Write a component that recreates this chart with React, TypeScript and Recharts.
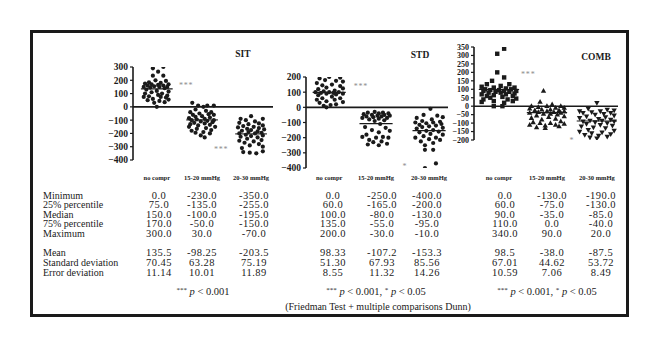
import React from 'react';
import { ScatterChart, Scatter, XAxis, YAxis, ReferenceLine, ReferenceDot } from 'recharts';

const INK = '#1a1a1a';
const STAR = '#8c8c8c';
const FONT = '"Liberation Serif", "Times New Roman", serif';

const categories = ['no compr', '15-20 mmHg', '20-30 mmHg'];

// each point: [value, horizontal jitter within its column (-1..1)]
const sitNoCompr: [number, number][] = [
  [300, 0.5], [290, -0.3], [265, 0.1], [235, -0.3], [235, 0.5], [200, -0.1], [195, 0.7], [185, -0.6], [180, 0.3], [175, -0.9],
  [170, 0.9], [170, -0.4], [165, 0.1], [160, -0.7], [160, 0.5], [155, -0.2], [150, 0.8], [150, -1.0], [150, 0.2], [145, -0.5],
  [140, 0.6], [130, -0.8], [120, 0.0], [115, 0.9], [110, -0.4], [100, 0.4], [100, -0.9], [90, 0.1], [85, 0.8], [80, -0.6],
  [75, 0.3], [75, -1.0], [70, 0.7], [60, -0.3], [55, 0.9], [50, -0.7], [45, 0.2], [35, 0.6], [30, -0.2], [0, 0.0],
];
const sit1520: [number, number][] = [
  [30, -0.75], [10, -0.3], [10, 0.4], [10, 0.9], [0, 0.1], [-20, -0.5], [-30, 0.3], [-40, -0.9], [-40, 0.7], [-50, -0.2],
  [-55, 0.5], [-60, -0.7], [-60, 0.9], [-70, 0.0], [-75, -0.5], [-80, 0.6], [-85, -1.0], [-90, 0.2], [-95, -0.4], [-100, 0.9],
  [-100, -0.8], [-105, 0.4], [-110, -0.1], [-115, 0.8], [-120, -0.6], [-125, 0.2], [-130, -0.9], [-135, 0.6], [-140, -0.3], [-150, 1.0],
  [-150, -1.0], [-160, 0.3], [-165, -0.4], [-175, 0.7], [-180, -0.8], [-190, 0.1], [-195, -0.5], [-200, 0.6], [-215, -0.1], [-230, 0.2],
];
const sit2030: [number, number][] = [
  [-70, 0.0], [-90, -0.8], [-90, 0.9], [-100, -0.4], [-110, 0.3], [-120, -0.9], [-125, 0.6], [-130, -0.2], [-140, 0.9], [-145, -0.6],
  [-150, 0.2], [-155, -1.0], [-160, 0.6], [-165, -0.3], [-170, 1.0], [-175, 0.0], [-180, -0.7], [-185, 0.5], [-190, -0.2], [-195, 0.8],
  [-200, -0.9], [-200, 0.3], [-210, -0.4], [-215, 0.9], [-220, 0.0], [-225, -0.8], [-230, 0.5], [-240, -0.3], [-250, 0.8], [-255, -0.9],
  [-260, 0.2], [-270, -0.5], [-280, 0.6], [-290, -0.1], [-300, 0.9], [-310, -0.7], [-340, -0.6], [-345, -0.1], [-350, 0.4], [-335, 0.9],
];
const stdNoCompr: [number, number][] = [
  [200, 0.0], [190, -0.7], [195, 0.8], [180, -0.3], [175, 0.5], [170, 1.0], [160, -0.9], [150, 0.2], [145, -0.5], [140, 0.8],
  [130, -0.2], [125, 1.0], [120, -0.8], [110, 0.4], [105, -0.4], [100, 0.0], [100, 0.7], [100, -1.0], [95, 0.3], [95, -0.6],
  [90, 1.0], [90, -0.2], [85, 0.5], [80, -0.8], [70, 0.2], [60, -0.5], [60, 0.8], [50, -0.9], [50, 0.4], [40, -0.2],
  [35, 1.0], [30, -0.7], [20, 0.5], [15, 0.1], [10, -0.4], [0, -0.2],
];
const std1520: [number, number][] = [
  [-30, -0.1], [-35, 0.5], [-35, -0.6], [-40, 0.9], [-40, 0.2], [-45, -0.9], [-50, -0.3], [-50, 0.6], [-55, 1.0], [-55, 0.1],
  [-60, -0.7], [-60, 0.4], [-65, -0.2], [-70, 0.8], [-70, -1.0], [-75, 0.2], [-80, -0.5], [-85, 0.6], [-90, -0.1], [-110, 0.3],
  [-130, -0.8], [-135, 0.7], [-150, -0.3], [-155, 1.0], [-165, 0.2], [-180, -0.7], [-195, 0.5], [-195, -1.0], [-200, 0.0], [-200, 0.9],
  [-215, -0.5], [-225, 0.4], [-230, -0.2], [-240, 0.8], [-245, -0.6], [-250, 0.2],
];
const std2030: [number, number][] = [
  [-10, 0.1], [-50, -0.4], [-55, 0.6], [-65, 1.0], [-70, -0.9], [-80, 0.2], [-90, -0.5], [-95, 0.8], [-100, -1.0], [-100, 0.3],
  [-105, -0.2], [-110, 0.9], [-115, -0.7], [-120, 0.5], [-125, 0.0], [-130, -0.5], [-135, 1.0], [-140, -0.9], [-150, 0.3], [-155, -0.2],
  [-160, 0.7], [-165, -0.7], [-175, 0.1], [-180, 1.0], [-190, -0.4], [-200, 0.5], [-200, -1.0], [-210, 0.0], [-215, 0.8], [-225, -0.6],
  [-235, 0.3], [-250, -0.3], [-280, -0.3], [-280, 0.3], [-370, 0.5], [-400, -0.3],
];
const combNoCompr: [number, number][] = [
  [340, 0.3], [310, -0.1], [200, -0.1], [170, 0.3], [150, -0.4], [130, 0.6], [130, -0.7], [120, 0.1], [115, -1.0], [110, 0.9],
  [110, -0.3], [105, 0.4], [100, -0.8], [100, 0.7], [95, 0.0], [95, -0.5], [90, 1.0], [90, 0.3], [90, -0.9], [85, -0.2],
  [85, 0.6], [80, -0.6], [80, 0.1], [75, 0.9], [70, -1.0], [70, 0.4], [65, -0.3], [60, 0.8], [60, -0.7], [55, 0.2],
  [50, -0.5], [45, 1.0], [40, -0.9], [40, 0.5], [30, -0.3], [30, 0.8], [25, -1.0], [20, 0.3], [0, -0.3], [0, 0.2],
];
const comb1520: [number, number][] = [
  [90, -0.2], [25, -0.4], [10, 0.3], [0, -0.9], [0, 0.8], [0, 0.0], [-5, -0.5], [-10, 0.5], [-10, 1.0], [-15, -1.0],
  [-20, 0.2], [-20, -0.3], [-25, 0.7], [-25, -0.7], [-30, 0.0], [-30, 1.0], [-35, -0.5], [-35, 0.4], [-40, -1.0], [-40, 0.8],
  [-45, -0.2], [-45, 0.2], [-50, 0.6], [-55, -0.6], [-60, 1.0], [-65, 0.1], [-70, -0.9], [-75, 0.5], [-80, -0.3], [-90, 0.8],
  [-95, -0.8], [-100, 0.2], [-100, -0.4], [-105, 1.0], [-110, -1.0], [-110, 0.5], [-115, -0.1], [-120, 0.7], [-125, -0.6], [-130, -0.1],
];
const comb2030: [number, number][] = [
  [20, 0.0], [-15, -0.5], [-20, 0.6], [-25, 1.0], [-30, -1.0], [-30, 0.2], [-35, -0.3], [-40, 0.8], [-40, -0.8], [-45, 0.4],
  [-50, -0.1], [-55, 1.0], [-60, -0.6], [-65, 0.5], [-70, -1.0], [-75, 0.1], [-80, 0.8], [-85, -0.4], [-85, 0.3], [-90, -0.8],
  [-90, 1.0], [-95, -0.1], [-100, 0.6], [-105, -0.6], [-110, 0.2], [-115, 0.9], [-120, -0.9], [-125, -0.2], [-130, 0.5], [-140, -0.5],
  [-145, 1.0], [-150, -1.0], [-155, 0.3], [-160, -0.3], [-165, 0.8], [-170, -0.7], [-175, 0.1], [-180, 0.6], [-185, -0.4], [-190, 0.0],
];

const sitMeans = [135.5, -98.25, -203.5];
const stdMeans = [98.33, -107.2, -153.3];
const combMeans = [98.5, -38.0, -87.5];

const sitTicks = [300, 200, 100, 0, -100, -200, -300, -400];
const stdTicks = [200, 100, 0, -100, -200, -300, -400];
const combTicks = [350, 300, 250, 200, 150, 100, 50, 0, -50, -100, -150, -200];

const rowLabelsA = ['Minimum', '25% percentile', 'Median', '75% percentile', 'Maximum'];
const rowLabelsB = ['Mean', 'Standard deviation', 'Error deviation'];

// columns: [min, q1, median, q3, max, mean, sd, error]
const sitStats = [
  ['0.0', '75.0', '150.0', '170.0', '300.0', '135.5', '70.45', '11.14'],
  ['-230.0', '-135.0', '-100.0', '-50.0', '30.0', '-98.25', '63.28', '10.01'],
  ['-350.0', '-255.0', '-195.0', '-150.0', '-70.0', '-203.5', '75.19', '11.89'],
];
const stdStats = [
  ['0.0', '60.0', '100.0', '135.0', '200.0', '98.33', '51.30', '8.55'],
  ['-250.0', '-165.0', '-80.0', '-55.0', '-30.0', '-107.2', '67.93', '11.32'],
  ['-400.0', '-200.0', '-130.0', '-95.0', '-10.0', '-153.3', '85.56', '14.26'],
];
const combStats = [
  ['0.0', '60.0', '90.0', '110.0', '340.0', '98.5', '67.01', '10.59'],
  ['-130.0', '-75.0', '-35.0', '0.0', '90.0', '-38.0', '44.62', '7.06'],
  ['-190.0', '-130.0', '-85.0', '-40.0', '20.0', '-87.5', '53.72', '8.49'],
];

const Dot = (p: any) => <circle cx={p.cx} cy={p.cy} r={2.1} fill={INK} />;
const Square = (p: any) => <rect x={p.cx - 2.2} y={p.cy - 2.2} width={4.4} height={4.4} fill={INK} />;
const TriUp = (p: any) => (
  <path d={`M${p.cx},${p.cy - 2.9}L${p.cx + 2.7},${p.cy + 1.9}L${p.cx - 2.7},${p.cy + 1.9}Z`} fill={INK} />
);
const TriDown = (p: any) => (
  <path d={`M${p.cx},${p.cy + 2.9}L${p.cx + 2.7},${p.cy - 1.9}L${p.cx - 2.7},${p.cy - 1.9}Z`} fill={INK} />
);

const YW = 45;
const MR = 5;
const MT = 10;
const XH = 45;
const LABEL_Y = 177;

type PanelCfg = {
  axisX: number; plotRight: number; plotTop: number; plotBottom: number;
  domain: [number, number]; ticks: number[]; centers: number[]; spread: number; tickFont: number;
  groups: [number, number][][]; means: number[]; shapes: any[];
  stars: { x: number; y: number; text: string }[];
};

const fmtTick = (v: number) => (v < 0 ? '\u2212' + Math.abs(v) : String(v));

function Panel({ cfg }: { cfg: PanelCfg }) {
  const left = cfg.axisX - YW;
  const width = YW + (cfg.plotRight - cfg.axisX) + MR;
  const top = cfg.plotTop - MT;
  const height = MT + (cfg.plotBottom - cfg.plotTop) + XH;
  const labelDy = LABEL_Y - cfg.plotBottom;
  const CatTick = (p: any) => (
    <text x={p.x} y={p.y + labelDy} textAnchor="middle" dominantBaseline="central"
      fontSize={6.5} fontWeight={700} fontFamily={FONT} fill={INK}>
      {categories[p.index]}
    </text>
  );
  return (
    <div style={{ position: 'absolute', left, top }}>
      <ScatterChart width={width} height={height} margin={{ top: MT, right: MR, bottom: 0, left: 0 }}>
        <XAxis type="number" dataKey="x" domain={[0, 3]} ticks={cfg.centers} axisLine={false}
          tickLine={false} tickSize={0} tickMargin={0} height={XH} tick={<CatTick />} interval={0} allowDataOverflow />
        <YAxis type="number" dataKey="y" domain={cfg.domain} ticks={cfg.ticks} interval={0} width={YW}
          allowDataOverflow tickFormatter={fmtTick} tickSize={3} tickMargin={2}
          axisLine={{ stroke: INK, strokeWidth: 1.6 }} tickLine={{ stroke: INK, strokeWidth: 1.2 }}
          tick={{ fontSize: cfg.tickFont, fontWeight: 700, fill: INK, fontFamily: FONT }} />
        <ReferenceLine y={0} stroke={INK} strokeWidth={1.6} />
        {cfg.groups.map((g, i) => (
          <Scatter key={i} isAnimationActive={false} shape={cfg.shapes[i]}
            data={g.map(([v, j]) => ({ x: cfg.centers[i] + j * cfg.spread, y: v }))} />
        ))}
        {cfg.means.map((m, i) => (
          <ReferenceLine key={'m' + i} stroke={INK} strokeWidth={1.1}
            segment={[{ x: cfg.centers[i] - cfg.spread - 0.06, y: m }, { x: cfg.centers[i] + cfg.spread + 0.06, y: m }]} />
        ))}
        {cfg.stars.map((s, i) => (
          <ReferenceDot key={'s' + i} x={s.x} y={s.y} r={1} fill="none" stroke="none"
            label={{ value: s.text, position: 'center', fill: STAR, fontSize: 8, fontFamily: FONT, letterSpacing: 0.8 }} />
        ))}
      </ScatterChart>
    </div>
  );
}

const sitCfg: PanelCfg = {
  axisX: 133, plotRight: 273, plotTop: 67, plotBottom: 160, tickFont: 9.5,
  domain: [-400, 300], ticks: sitTicks, centers: [0.51, 1.48, 2.53], spread: 0.28,
  groups: [sitNoCompr, sit1520, sit2030], means: sitMeans, shapes: [Dot, Dot, Dot],
  stars: [{ x: 1.14, y: 160, text: '***' }, { x: 1.89, y: -315, text: '***' }],
};
const stdCfg: PanelCfg = {
  axisX: 306, plotRight: 448, plotTop: 77, plotBottom: 168, tickFont: 9.5,
  domain: [-400, 200], ticks: stdTicks, centers: [0.49, 1.48, 2.6], spread: 0.29,
  groups: [stdNoCompr, std1520, std2030], means: stdMeans, shapes: [Dot, Dot, Dot],
  stars: [{ x: 1.16, y: 142, text: '***' }, { x: 2.09, y: -385, text: '*' }],
};
const combCfg: PanelCfg = {
  axisX: 474, plotRight: 618, plotTop: 47, plotBottom: 140, tickFont: 8,
  domain: [-200, 350], ticks: combTicks, centers: [0.52, 1.52, 2.56], spread: 0.36,
  groups: [combNoCompr, comb1520, comb2030], means: combMeans, shapes: [Square, TriUp, TriDown],
  stars: [{ x: 1.13, y: 192, text: '***' }, { x: 2.04, y: -198, text: '*' }],
};

function T({ x, y, children, anchor = 'middle', size = 10, weight = 400, color = INK, spacing = 0 }: any) {
  const tx = anchor === 'middle' ? '-50%' : anchor === 'end' ? '-100%' : '0';
  return (
    <div style={{
      position: 'absolute', left: x, top: y, transform: `translate(${tx},-50%)`, fontSize: size,
      fontWeight: weight, lineHeight: 1, whiteSpace: 'nowrap', color, fontFamily: FONT, letterSpacing: spacing,
    }}>{children}</div>
  );
}

const rowYA = [195.5, 205, 214.5, 224, 233.5];
const rowYB = [253, 263, 273];
const sitCols = [159, 202, 254];
const stdCols = [333, 382, 427];
const combCols = [505, 552, 601];

const Sup = ({ children }: any) => (
  <span style={{ fontSize: 7, position: 'relative', top: -3 }}>{children}</span>
);

export default function App() {
  const tables: [string[][], number[]][] = [[sitStats, sitCols], [stdStats, stdCols], [combStats, combCols]];
  return (
    <div style={{ position: 'absolute', left: 0, top: 0, width: 660, height: 349, background: '#fff', fontFamily: FONT, overflow: 'hidden' }}>
      <div style={{ position: 'absolute', left: 30, top: 30, width: 599, height: 287, border: `3px solid ${INK}`, boxSizing: 'border-box' }} />
      <Panel cfg={sitCfg} />
      <Panel cfg={stdCfg} />
      <Panel cfg={combCfg} />
      <T x={243} y={55} size={9.5} weight={700}>SIT</T>
      <T x={420} y={56} size={9.5} weight={700}>STD</T>
      <T x={596} y={58} size={9.5} weight={700}>COMB</T>
      {rowLabelsA.map((l, i) => <T key={'a' + i} x={43} y={rowYA[i]} anchor="start">{l}</T>)}
      {rowLabelsB.map((l, i) => <T key={'b' + i} x={43} y={rowYB[i]} anchor="start">{l}</T>)}
      {tables.map(([stats, cols], k) =>
        stats.map((col, c) =>
          col.map((v, r) => (
            <T key={`${k}-${c}-${r}`} x={cols[c]} y={r < 5 ? rowYA[r] : rowYB[r - 5]} size={10.5} spacing={0.5}>{v}</T>
          ))
        )
      )}
      <T x={203} y={292} size={10.5}><Sup>***</Sup> <i>p</i> &lt; 0.001</T>
      <T x={376} y={292} size={10.5}><Sup>***</Sup> <i>p</i> &lt; 0.001, <Sup>*</Sup> <i>p</i> &lt; 0.05</T>
      <T x={547} y={292} size={10.5}><Sup>***</Sup> <i>p</i> &lt; 0.001, <Sup>*</Sup> <i>p</i> &lt; 0.05</T>
      <T x={378} y={307}>(Friedman Test + multiple comparisons Dunn)</T>
    </div>
  );
}
